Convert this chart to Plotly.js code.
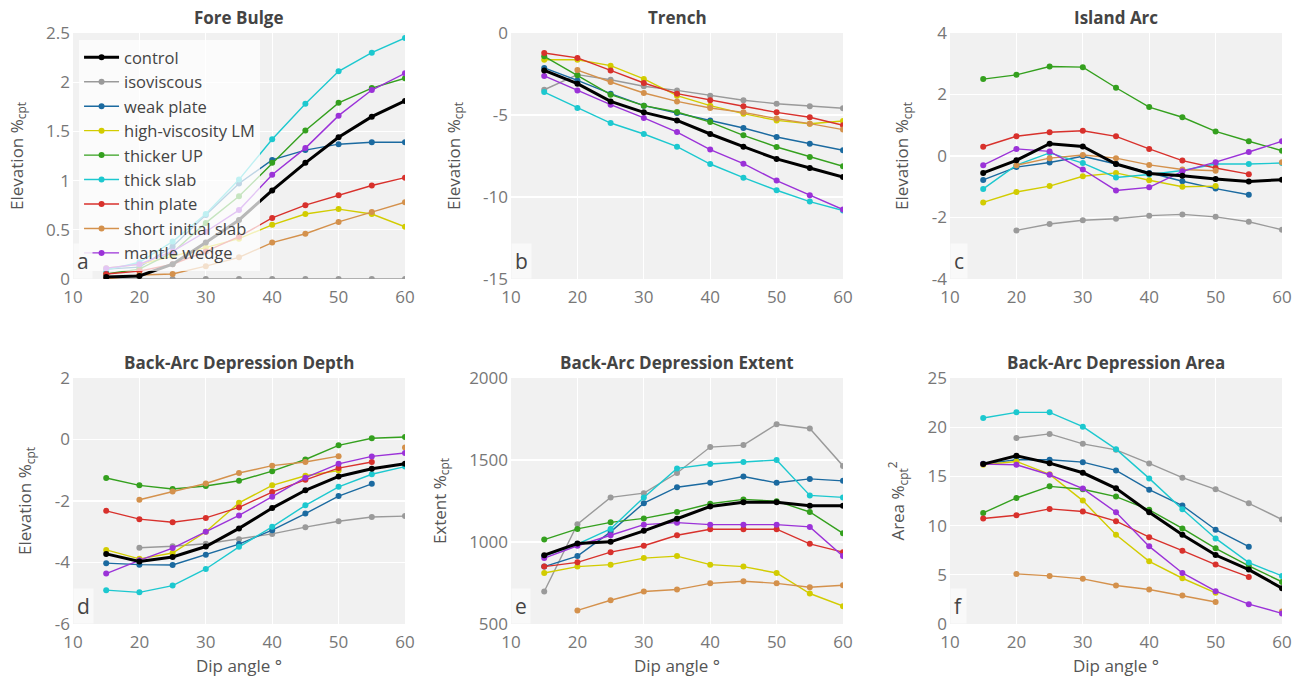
<!DOCTYPE html>
<html>
<head>
<meta charset="utf-8">
<script src="https://cdn.plot.ly/plotly-3.0.1.min.js"></script>
<style>html,body{margin:0;padding:0;background:#fff;}#chart{width:1299px;height:679px;}</style>
</head>
<body>
<div id="chart"></div>
<script>
const dips = [15, 20, 25, 30, 35, 40, 45, 50, 55, 60];
const seriesNames = ['control', 'isoviscous', 'weak plate', 'high-viscosity LM', 'thicker UP', 'thick slab', 'thin plate', 'short initial slab', 'mantle wedge'];
const seriesColors = ['#000000', '#9a9a9a', '#1b6aa0', '#d2cc00', '#34a01e', '#1cc8cf', '#d8312c', '#d4914c', '#9b32d8'];
const panelTitles = ['Fore Bulge', 'Trench', 'Island Arc', 'Back-Arc Depression Depth', 'Back-Arc Depression Extent', 'Back-Arc Depression Area'];
const panelLetters = ['a', 'b', 'c', 'd', 'e', 'f'];
const yTitles = ['Elevation %<sub>cpt</sub>', 'Elevation %<sub>cpt</sub>', 'Elevation %<sub>cpt</sub>', 'Elevation %<sub>cpt</sub>', 'Extent %<sub>cpt</sub>', 'Area %<sub>cpt</sub><sup>2</sup>'];
const xTitle = 'Dip angle °';
const xTickVals = [10, 20, 30, 40, 50, 60];
const xTickText = ['10', '20', '30', '40', '50', '60'];
const yTickVals = [
  [0, 0.5, 1, 1.5, 2, 2.5],
  [-15, -10, -5, 0],
  [-4, -2, 0, 2, 4],
  [-6, -4, -2, 0, 2],
  [500, 1000, 1500, 2000],
  [0, 5, 10, 15, 20, 25]
];
const yTickText = [
  ['0', '0.5', '1', '1.5', '2', '2.5'],
  ['-15', '-10', '-5', '0'],
  ['-4', '-2', '0', '2', '4'],
  ['-6', '-4', '-2', '0', '2'],
  ['500', '1000', '1500', '2000'],
  ['0', '5', '10', '15', '20', '25']
];

// rows: control, isoviscous, weak plate, high-viscosity LM, thicker UP, thick slab, thin plate, short initial slab, mantle wedge
const foreBulge = [
  [0.02, 0.03, 0.15, 0.37, 0.60, 0.90, 1.18, 1.44, 1.65, 1.81],
  [0.00, 0.00, 0.00, 0.00, 0.00, 0.00, 0.00, 0.00, 0.00, 0.00],
  [0.10, 0.12, 0.33, 0.65, 0.97, 1.21, 1.31, 1.37, 1.39, 1.39],
  [0.11, 0.15, 0.23, 0.32, 0.41, 0.55, 0.66, 0.71, 0.66, 0.53],
  [0.05, 0.10, 0.27, 0.57, 0.84, 1.18, 1.51, 1.79, 1.94, 2.04],
  [0.09, 0.17, 0.38, 0.66, 1.01, 1.42, 1.78, 2.11, 2.30, 2.45],
  [0.05, 0.08, 0.15, 0.28, 0.43, 0.62, 0.75, 0.85, 0.95, 1.03],
  [0.00, 0.04, 0.05, 0.13, 0.22, 0.37, 0.46, 0.58, 0.68, 0.78],
  [0.11, 0.15, 0.28, 0.48, 0.70, 1.06, 1.33, 1.66, 1.92, 2.09]
];
const trench = [
  [-2.28, -3.09, -4.17, -4.84, -5.33, -6.16, -6.93, -7.68, -8.23, -8.78],
  [-3.46, -2.54, -2.85, -3.25, -3.50, -3.82, -4.10, -4.31, -4.47, -4.59],
  [-2.13, -2.89, -3.70, -4.43, -4.88, -5.33, -5.79, -6.34, -6.75, -7.15],
  [-1.63, -1.63, -1.99, -2.80, -3.82, -4.43, -4.92, -5.33, -5.53, -5.37],
  [-1.42, -2.58, -3.76, -4.43, -4.82, -5.43, -6.24, -6.95, -7.56, -8.13],
  [-3.60, -4.57, -5.49, -6.16, -6.93, -7.99, -8.82, -9.59, -10.28, -10.83],
  [-1.22, -1.52, -2.28, -3.05, -3.70, -4.10, -4.47, -4.84, -5.14, -5.63],
  [null, -2.26, -2.99, -3.66, -4.17, -4.57, -4.84, -5.22, -5.53, -5.89],
  [-2.62, -3.50, -4.37, -5.18, -6.04, -7.11, -7.97, -9.00, -9.90, -10.77]
];
const islandArc = [
  [-0.55, -0.14, 0.40, 0.31, -0.26, -0.57, -0.64, -0.75, -0.83, -0.77],
  [null, -2.42, -2.21, -2.09, -2.04, -1.94, -1.90, -1.98, -2.14, -2.40],
  [-0.78, -0.36, -0.21, -0.01, -0.26, -0.55, -0.82, -1.06, -1.26, null],
  [-1.51, -1.17, -0.98, -0.66, -0.55, -0.79, -1.00, -0.98, null, null],
  [2.50, 2.64, 2.91, 2.89, 2.22, 1.59, 1.26, 0.80, 0.48, 0.17],
  [-1.07, -0.30, 0.10, -0.23, -0.70, -0.60, -0.47, -0.26, -0.26, -0.23],
  [0.30, 0.64, 0.77, 0.82, 0.64, 0.23, -0.15, -0.39, -0.59, null],
  [null, -0.30, -0.07, 0.03, -0.07, -0.29, -0.44, -0.48, null, -0.20],
  [-0.30, 0.23, 0.15, -0.44, -1.12, -1.02, -0.50, -0.20, 0.13, 0.48]
];
const depressionDepth = [
  [-3.72, -3.97, -3.82, -3.48, -2.89, -2.23, -1.65, -1.20, -0.95, -0.79],
  [null, -3.52, -3.47, -3.39, -3.24, -3.07, -2.85, -2.66, -2.52, -2.49],
  [-4.02, -4.07, -4.08, -3.75, -3.40, -2.95, -2.41, -1.84, -1.44, null],
  [-3.59, -3.88, -3.69, -3.00, -2.06, -1.49, -1.18, -1.01, null, null],
  [-1.25, -1.49, -1.61, -1.51, -1.34, -1.03, -0.65, -0.19, 0.04, 0.08],
  [-4.90, -4.97, -4.75, -4.21, -3.49, -2.84, -2.14, -1.54, -1.13, -0.88],
  [-2.32, -2.59, -2.69, -2.55, -2.21, -1.71, -1.31, -0.93, -0.73, null],
  [null, -1.96, -1.69, -1.43, -1.09, -0.85, -0.73, -0.54, null, -0.26],
  [-4.36, -3.93, -3.53, -3.00, -2.47, -1.86, -1.24, -0.79, -0.55, -0.44]
];
const depressionExtent = [
  [920, 991, 1001, 1068, 1142, 1217, 1243, 1243, 1221, 1221],
  [698, 1108, 1272, 1298, 1421, 1579, 1591, 1718, 1692, 1464],
  [850, 914, 1062, 1237, 1334, 1361, 1399, 1361, 1385, 1373],
  [811, 850, 862, 902, 914, 862, 850, 811, 686, 609],
  [1015, 1080, 1120, 1144, 1183, 1233, 1260, 1249, 1183, 1053],
  [914, 987, 1080, 1272, 1449, 1476, 1488, 1500, 1284, 1272],
  [850, 876, 938, 977, 1041, 1078, 1078, 1078, 989, 938],
  [null, 583, 645, 698, 710, 748, 761, 748, 724, 736],
  [902, 977, 1041, 1106, 1118, 1106, 1106, 1106, 1092, 914]
];
const depressionArea = [
  [16.25, 17.09, 16.35, 15.37, 13.79, 11.36, 9.07, 7.01, 5.53, 3.64],
  [null, 18.91, 19.32, 18.31, 17.70, 16.32, 14.87, 13.69, 12.27, 10.62],
  [16.28, 16.69, 16.69, 16.45, 15.61, 13.65, 12.04, 9.58, 7.86, null],
  [16.18, 16.52, 15.21, 12.54, 9.07, 6.37, 4.65, 3.17, null, null],
  [11.29, 12.81, 13.99, 13.69, 12.95, 11.60, 9.71, 7.69, 5.90, 4.28],
  [20.94, 21.51, 21.51, 20.06, 17.77, 14.80, 11.67, 8.70, 6.24, 4.89],
  [10.72, 11.06, 11.70, 11.43, 10.45, 8.83, 7.45, 6.04, 4.79, null],
  [null, 5.09, 4.89, 4.59, 3.91, 3.51, 2.90, 2.23, null, 1.28],
  [16.25, 16.18, 15.17, 13.76, 11.36, 7.89, 5.19, 3.34, 2.02, 1.08]
];
const yRanges = [[0, 2.5], [-15, 0], [-4, 4], [-6, 2], [500, 2000], [0, 25]];

const panels = [foreBulge, trench, islandArc, depressionDepth, depressionExtent, depressionArea];
const xDomains = [[0, 0.2746], [0.3623, 0.6369], [0.7254, 1.0]];
const yDomains = [[0.5838, 1.0], [0, 0.4162]];

const traces = [];
panels.forEach((panel, p) => {
  const ax = p === 0 ? '' : String(p + 1);
  const order = [1, 2, 3, 4, 5, 6, 7, 8, 0];
  order.forEach(s => {
    const isCtrl = s === 0;
    traces.push({
      type: 'scatter', mode: 'lines+markers',
      x: dips, y: panel[s],
      name: seriesNames[s],
      legendrank: s + 1,
      showlegend: p === 0,
      legendgroup: seriesNames[s],
      xaxis: 'x' + ax, yaxis: 'y' + ax,
      line: {color: seriesColors[s], width: isCtrl ? 3 : 1.4},
      marker: {color: seriesColors[s], size: 6},
      connectgaps: false
    });
  });
});

const fontFam = '"Open Sans", "Noto Sans", sans-serif';
const layout = {
  width: 1299, height: 679,
  margin: {l: 73, r: 17, t: 33, b: 55},
  paper_bgcolor: '#ffffff',
  plot_bgcolor: '#f1f1f1',
  font: {family: fontFam, color: '#444'},
  showlegend: true,
  legend: {
    x: 0.005, y: 0.988, xanchor: 'left', yanchor: 'top',
    bgcolor: 'rgba(255,255,255,0.72)',
    font: {size: 16.5, color: '#444', family: fontFam},
    tracegroupgap: 0, itemwidth: 35
  },
  annotations: []
};

for (let p = 0; p < 6; p++) {
  const ax = p === 0 ? '' : String(p + 1);
  const col = p % 3, row = Math.floor(p / 3);
  layout['xaxis' + ax] = {
    domain: xDomains[col], anchor: 'y' + ax,
    range: [10, 60], tickmode: 'array', tickvals: xTickVals, ticktext: xTickText,
    showgrid: true, gridcolor: '#ffffff', gridwidth: 1.2,
    zeroline: false, showline: false, ticks: '',
    ticklabelstandoff: 6,
    tickfont: {size: 17, color: '#777', family: fontFam},
    title: row === 1 ? {text: xTitle, font: {size: 17, color: '#555', family: fontFam}, standoff: 8} : {text: ''}
  };
  layout['yaxis' + ax] = {
    domain: yDomains[row], anchor: 'x' + ax,
    range: yRanges[p], tickmode: 'array', tickvals: yTickVals[p], ticktext: yTickText[p],
    showgrid: true, gridcolor: '#ffffff', gridwidth: 1.2,
    zeroline: false, showline: false, ticks: '',
    ticklabelstandoff: 2,
    tickfont: {size: 17, color: '#777', family: fontFam},
    title: {text: yTitles[p], font: {size: 17, color: '#555', family: fontFam}, standoff: 18}
  };
  layout.annotations.push({
    xref: 'x' + ax + ' domain', yref: 'y' + ax + ' domain',
    x: 0.5, y: 1, xanchor: 'center', yanchor: 'bottom', yshift: 2,
    text: '<b>' + panelTitles[p] + '</b>', showarrow: false,
    font: {size: 17, color: '#444', family: fontFam}
  });
  layout.annotations.push({
    xref: 'x' + ax + ' domain', yref: 'y' + ax + ' domain',
    x: 0, y: 0, xanchor: 'left', yanchor: 'bottom',
    text: panelLetters[p], showarrow: false,
    bgcolor: 'rgba(250,250,250,0.85)', borderpad: 3,
    font: {size: 21, color: '#444', family: fontFam}
  });
}

Plotly.newPlot('chart', traces, layout, {displayModeBar: false, staticPlot: true});
</script>
</body>
</html>
